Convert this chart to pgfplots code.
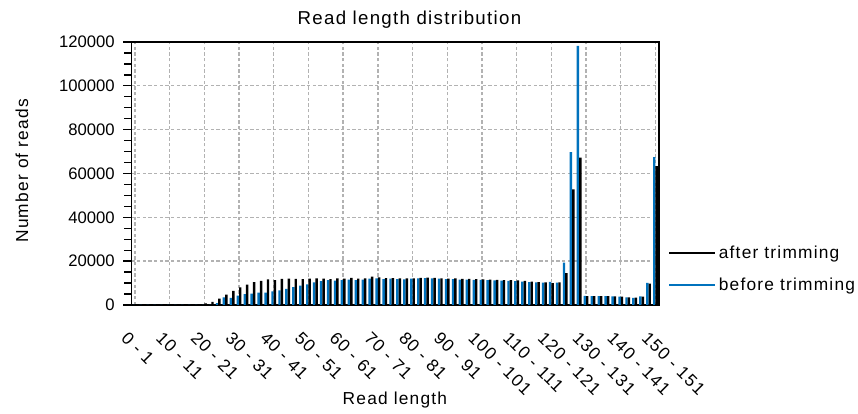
\documentclass[border=0pt]{standalone}
\usepackage{fontspec}
\setmainfont{Liberation Sans}
\newfontfamily\lblfont{Liberation Sans}[LetterSpace=7]
\usepackage{pgfplots}
\pgfplotsset{compat=1.18}
\usepackage{pgfplotstable}
\definecolor{bblue}{RGB}{0,114,189}

% read length bins (start of bin), reads after / before trimming
\pgfplotstableread{
x after before
0 0 0
2 0 0
4 0 0
6 0 0
8 0 0
10 0 0
12 0 0
14 0 0
16 0 0
18 0 0
20 700 0
22 1400 0
24 2900 800
26 4700 3500
28 6500 3300
30 8000 4300
32 9300 5000
34 10400 5200
36 11000 5700
38 11700 5600
40 11400 6200
42 11900 6700
44 12000 7400
46 11900 8200
48 11800 8800
50 12000 9400
52 12100 10300
54 12000 10900
56 11800 11300
58 12100 11100
60 12000 11300
62 12400 11600
64 12000 11400
66 12100 11600
68 12900 12000
70 12600 12100
72 12300 11800
74 12300 12000
76 12200 11800
78 12200 11700
80 12200 12000
82 12400 12100
84 12500 12300
86 12400 12200
88 12200 12000
90 12000 11800
92 12100 11800
94 11900 11600
96 11900 11600
98 11800 11500
100 11700 11500
102 11600 11300
104 11500 11200
106 11400 11100
108 11300 11000
110 11200 10900
112 11000 10700
114 10700 10400
116 10400 10300
118 10300 10200
120 10000 10600
122 10300 10200
124 14500 19300
126 52800 69800
128 67200 118200
130 4100 4200
132 4100 4100
134 4000 4100
136 4000 4000
138 3900 3900
140 3800 3800
142 3500 3500
144 3400 3300
146 3800 3900
148 9800 10100
150 63400 67500
}\lengths

\begin{document}
\begin{tikzpicture}
\begin{axis}[
    scale only axis,
    width=395.6pt, height=197.25pt,
    xmin=-1, xmax=151,
    ymin=0, ymax=120000,
    xtick={0,10,...,150},
    xticklabels={0 - 1, 10 - 11, 20 - 21, 30 - 31, 40 - 41, 50 - 51, 60 - 61, 70 - 71, 80 - 81, 90 - 91, 100 - 101, 110 - 111, 120 - 121, 130 - 131, 140 - 141, 150 - 151},
    ytick={0,20000,...,120000},
    minor y tick num=3,
    scaled y ticks=false,
    ytick pos=left,
    xtick style={draw=none},
    tick align=outside,
    major tick length=6pt, minor tick length=5.5pt,
    tick style={black, line width=1pt},
    grid=major,
    major grid style={gray!60, dash pattern=on 2.5pt off 1.75pt, line width=1pt},
    axis line style={black, line width=0.9pt},
    tick label style={font=\fontsize{12.5}{14}\selectfont},
    /pgf/number format/assume math mode=true,
    yticklabel style={xshift=-3pt, /pgf/number format/fixed, /pgf/number format/set thousands separator={}},
    xticklabel style={anchor=base west, inner sep=0pt, xshift=-11pt, yshift=-19.5pt, rotate=-45,
        font=\lblfont\fontsize{13}{15}\selectfont},
    title={Read length distribution},
    title style={at={(axis description cs:0.527,1.053)}, anchor=center, font=\lblfont\fontsize{14}{16}\selectfont},
    xlabel={Read length},
    xlabel style={at={(axis description cs:0.4995,-0.361)}, anchor=center, font=\lblfont\fontsize{13}{15}\selectfont},
    ylabel={Number of reads},
    ylabel style={at={(axis description cs:-0.2076,0.51)}, anchor=center, font=\lblfont\fontsize{13}{15}\selectfont},
    legend image code/.code={\draw[#1] (0pt,0pt) -- (34.5pt,0pt);},
    legend cell align=left,
    legend style={draw=none, fill=none, at={(axis description cs:1.0095,0.137)}, anchor=west,
        row sep=9pt, font=\lblfont\fontsize{13}{15}\selectfont},
]
\addplot[ybar, bar width=0.7, bar shift=-0.35, fill=bblue, draw=none, forget plot] table[x=x, y=before] {\lengths};
\addplot[ybar, bar width=0.7, bar shift=0.35, fill=black, draw=none, forget plot] table[x=x, y=after] {\lengths};
\addlegendimage{black, line width=1.5pt}
\addlegendentry{after trimming}
\addlegendimage{bblue, line width=1.5pt}
\addlegendentry{before trimming}
\end{axis}
\pgfresetboundingbox
\path[use as bounding box] (-98.6pt,-81.75pt) rectangle (544.9pt,228.75pt);
\end{tikzpicture}
\end{document}
